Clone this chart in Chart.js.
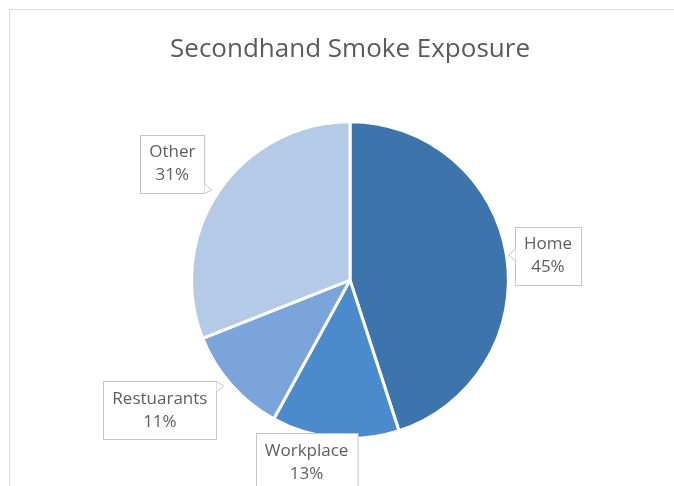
<!DOCTYPE html>
<html>
<head>
<meta charset="UTF-8">
<title>Secondhand Smoke Exposure</title>
<script src="https://cdn.jsdelivr.net/npm/chart.js@4"></script>
<style>
  html, body { margin: 0; padding: 0; background: #fff; overflow: hidden; }
  .frame { position: absolute; left: 9px; top: 9px; width: 720px; height: 520px; border: 1px solid #dcdcdc; }
  .wrap { position: absolute; left: 0; top: 0; width: 674px; height: 486px; }
</style>
</head>
<body>
<div class="frame"></div>
<div class="wrap"><canvas id="pie"></canvas></div>
<script>
const categories = ["Home", "Workplace", "Restuarants", "Other"];
const shares = [45, 13, 11, 31];
const sliceColors = ["#3d74ab", "#4b8bcb", "#7ba5da", "#b5cae7"];

// boxed "name / percent" callouts placed just outside each slice
const calloutPlugin = {
  id: "callouts",
  afterDatasetsDraw(chart, args, opts) {
    const ctx = chart.ctx;
    const meta = chart.getDatasetMeta(0);
    const values = chart.data.datasets[0].data;
    const total = values.reduce((s, v) => s + v, 0);
    ctx.save();
    ctx.font = opts.font;
    ctx.textAlign = "center";
    ctx.textBaseline = "middle";
    meta.data.forEach((arc, i) => {
      const p = arc.getProps(["x", "y", "startAngle", "endAngle", "outerRadius"], true);
      const mid = (p.startAngle + p.endAngle) / 2;
      const a = mid + (opts.turn[i] * Math.PI) / 180;
      const r = p.outerRadius + opts.gap[i];
      const cx = p.x + Math.cos(a) * r;
      const cy = p.y + Math.sin(a) * r;
      const lines = [chart.data.labels[i], Math.round((values[i] / total) * 100) + "%"];
      const w = Math.max(...lines.map((t) => ctx.measureText(t).width)) + opts.padX * 2;
      const h = opts.lineHeight * 2 + opts.padY * 2;
      const left = Math.round(cx - w / 2) + 0.5;
      const top = Math.round(cy - h / 2) + 0.5;

      ctx.fillStyle = "#fff";
      ctx.strokeStyle = opts.border;
      ctx.lineWidth = 1;
      ctx.fillRect(left, top, w, h);
      ctx.strokeRect(left, top, w, h);

      // small pointer from the box toward the slice rim
      const tx = p.x + Math.cos(mid) * (p.outerRadius + 2);
      const ty = p.y + Math.sin(mid) * (p.outerRadius + 2);
      const px = Math.min(Math.max(tx, left), left + w);
      const py = Math.min(Math.max(ty, top), top + h);
      const dx = tx - px, dy = ty - py;
      const len = Math.hypot(dx, dy);
      if (len > 1) {
        const onSide = px === left || px === left + w;
        const b1 = onSide ? [px, Math.max(top, py - 6)] : [Math.max(left, px - 6), py];
        const b2 = onSide ? [px, Math.min(top + h, py + 6)] : [Math.min(left + w, px + 6), py];
        const tip = [px + (dx / len) * 7, py + (dy / len) * 7];
        ctx.beginPath();
        ctx.moveTo(b1[0], b1[1]);
        ctx.lineTo(tip[0], tip[1]);
        ctx.lineTo(b2[0], b2[1]);
        ctx.closePath();
        ctx.fill();
        ctx.beginPath();
        ctx.moveTo(b1[0], b1[1]);
        ctx.lineTo(tip[0], tip[1]);
        ctx.lineTo(b2[0], b2[1]);
        ctx.stroke();
      }

      ctx.fillStyle = opts.color;
      ctx.fillText(lines[0], cx, cy - opts.lineHeight / 2);
      ctx.fillText(lines[1], cx, cy + opts.lineHeight / 2);
    });
    ctx.restore();
  }
};

new Chart(document.getElementById("pie"), {
  type: "pie",
  data: {
    labels: categories,
    datasets: [{
      data: shares,
      backgroundColor: sliceColors,
      borderColor: "#ffffff",
      borderWidth: 3
    }]
  },
  options: {
    responsive: true,
    maintainAspectRatio: false,
    animation: false,
    events: [],
    layout: { padding: { left: 120, right: 94, top: 0, bottom: 46 } },
    plugins: {
      legend: { display: false },
      tooltip: { enabled: false },
      title: {
        display: true,
        text: "Secondhand Smoke Exposure",
        color: "#5b5b5b",
        font: { family: "'Open Sans', sans-serif", size: 26, weight: "normal", lineHeight: 1.2 },
        padding: { top: 34, bottom: 55 }
      },
      callouts: {
        font: "17px 'Open Sans', sans-serif",
        color: "#5e5e5e",
        border: "#c4c4c4",
        lineHeight: 23,
        padX: 9,
        padY: 6,
        gap: [41, 29, 72, 54],
        turn: [2, 8, 7, -1]
      }
    }
  },
  plugins: [calloutPlugin]
});
</script>
</body>
</html>
